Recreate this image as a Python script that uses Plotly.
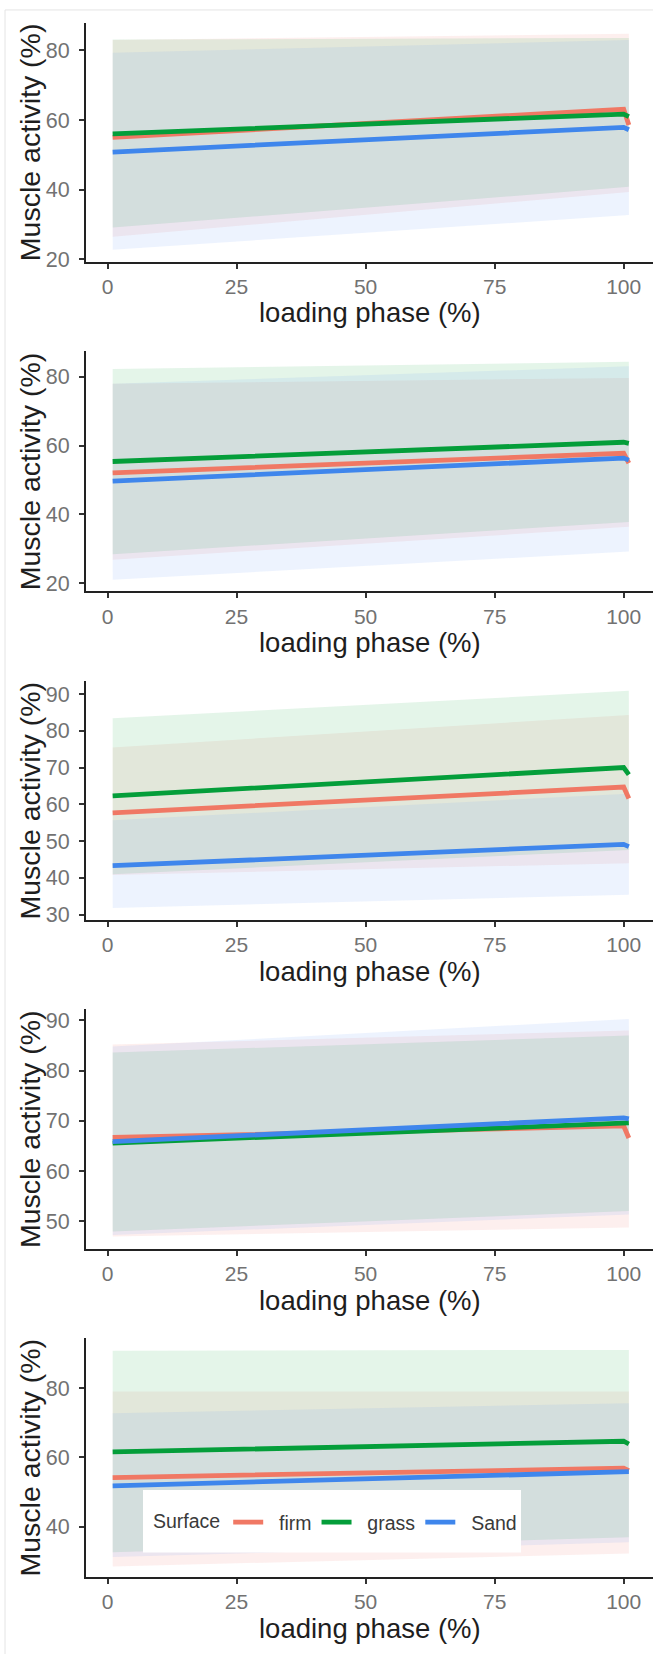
import plotly.graph_objects as go

# ---------------- data ----------------
surfaces = ["firm", "grass", "Sand"]
line_x = [1, 100, 101]
ribbon_x = [1, 101]

# panel 1
p1_mean = {"firm": [55.0, 63.1, 58.6], "grass": [56.0, 61.7, 61.0], "Sand": [50.8, 57.9, 57.2]}
p1_upper = {"firm": [83.0, 84.8], "grass": [83.1, 83.6], "Sand": [79.3, 83.0]}
p1_lower = {"firm": [26.5, 39.3], "grass": [29.1, 40.8], "Sand": [22.7, 32.7]}
# panel 2
p2_mean = {"firm": [52.1, 57.8, 54.9], "grass": [55.4, 61.0, 60.7], "Sand": [49.7, 56.4, 55.8]}
p2_upper = {"firm": [78.0, 79.7], "grass": [82.3, 84.4], "Sand": [78.0, 83.1]}
p2_lower = {"firm": [26.8, 36.4], "grass": [28.4, 37.8], "Sand": [21.0, 29.2]}
# panel 3
p3_mean = {"firm": [57.7, 64.7, 61.6], "grass": [62.3, 70.0, 68.1], "Sand": [43.3, 49.1, 48.5]}
p3_upper = {"firm": [75.5, 84.3], "grass": [83.4, 90.9], "Sand": [55.7, 62.9]}
p3_lower = {"firm": [40.8, 44.0], "grass": [41.0, 47.6], "Sand": [31.8, 35.4]}
# panel 4
p4_mean = {"firm": [66.7, 69.0, 66.6], "grass": [65.6, 69.7, 69.6], "Sand": [65.9, 70.6, 70.4]}
p4_upper = {"firm": [85.2, 88.0], "grass": [83.6, 87.0], "Sand": [84.8, 90.3]}
p4_lower = {"firm": [47.0, 48.8], "grass": [48.0, 52.1], "Sand": [47.3, 51.4]}
# panel 5
p5_mean = {"firm": [54.2, 56.9, 56.2], "grass": [61.6, 64.7, 63.9], "Sand": [51.8, 55.9, 55.9]}
p5_upper = {"firm": [79.1, 79.1], "grass": [90.9, 91.1], "Sand": [72.8, 75.7]}
p5_lower = {"firm": [28.5, 32.2], "grass": [32.6, 36.9], "Sand": [31.2, 35.5]}

x_ticks = [0, 25, 50, 75, 100]
y_ticks = [[20, 40, 60, 80], [20, 40, 60, 80], [30, 40, 50, 60, 70, 80, 90],
           [50, 60, 70, 80, 90], [40, 60, 80]]
y_ranges = [[19.3, 88.0], [17.6, 87.5], [28.5, 93.6], [44.5, 92.3], [25.4, 94.6]]
x_title = "loading phase (%)"
y_title = "Muscle activity (%)"

panels = [(p1_mean, p1_upper, p1_lower), (p2_mean, p2_upper, p2_lower),
          (p3_mean, p3_upper, p3_lower), (p4_mean, p4_upper, p4_lower),
          (p5_mean, p5_upper, p5_lower)]

# ---------------- style ----------------
W, H = 653, 1654
line_colors = {"firm": "#F07864", "grass": "#049E3A", "Sand": "#3F86EC"}
ribbon_rgb = {"firm": (240, 120, 112), "grass": (30, 170, 75), "Sand": (105, 156, 245)}
ribbon_alpha = 0.12
panel_px = [(22.7, 263.3), (353.3, 595.0), (685.0, 925.7), (1015.0, 1256.7), (1346.0, 1586.7)]
FONT = "Liberation Sans, Arial, sans-serif"
NBSP = "\u00a0"

fig = go.Figure()
layout_axes = {}
annotations = []
for i, (mean, upper, lower) in enumerate(panels):
    n = "" if i == 0 else str(i + 1)
    xa, ya = "x" + n, "y" + n
    for s in surfaces:
        r, g, b = ribbon_rgb[s]
        fig.add_trace(go.Scatter(
            x=ribbon_x + ribbon_x[::-1], y=lower[s] + upper[s][::-1],
            fill="toself", fillcolor=f"rgba({r},{g},{b},{ribbon_alpha})",
            line=dict(width=0), mode="lines", showlegend=False, hoverinfo="skip",
            xaxis=xa, yaxis=ya))
    for s in surfaces:
        fig.add_trace(go.Scatter(
            x=line_x, y=mean[s], mode="lines", name=NBSP * 2 + s,
            legendgroup=s, line=dict(color=line_colors[s], width=4.8),
            showlegend=(i == 0), xaxis=xa, yaxis=ya))
    top, bot = panel_px[i]
    layout_axes["xaxis" + n] = dict(
        domain=[86 / W, 1.0], range=[-4.165, 105.68], anchor=ya,
        tickvals=x_ticks, showline=True, linecolor="#222222", linewidth=2,
        ticks="outside", ticklen=5, tickwidth=1.5, tickcolor="#333333",
        showgrid=False, zeroline=False, ticklabelstandoff=0,
        tickfont=dict(family=FONT, size=21, color="#727272"))
    layout_axes["yaxis" + n] = dict(
        domain=[1 - bot / H, 1 - top / H], range=y_ranges[i], anchor=xa,
        tickvals=y_ticks[i], showline=True, linecolor="#222222", linewidth=2,
        ticks="outside", ticklen=5, tickwidth=1.5, tickcolor="#333333",
        showgrid=False, zeroline=False, ticklabelstandoff=5,
        tickfont=dict(family=FONT, size=21.5, color="#727272"))
    # axis titles
    annotations.append(dict(text=x_title, xref="paper", yref="paper",
                            x=370 / W, y=1 - (bot + 51.4) / H, borderpad=0,
                            xanchor="center", yanchor="middle", showarrow=False,
                            font=dict(family=FONT, size=27.5, color="#1e1e1e")))
    annotations.append(dict(text=y_title, xref="paper", yref="paper",
                            x=30 / W, y=1 - ((top + bot) / 2) / H, textangle=-90,
                            borderpad=0, xanchor="center", yanchor="middle",
                            showarrow=False,
                            font=dict(family=FONT, size=28.5, color="#1e1e1e")))

fig.update_layout(
    width=W, height=H, margin=dict(l=0, r=0, t=0, b=0),
    paper_bgcolor="white", plot_bgcolor="white",
    showlegend=True,
    legend=dict(orientation="h", x=151 / W, xanchor="left",
                y=1 - 1531.7 / H, yanchor="middle",
                bgcolor="rgba(255,255,255,0)", borderwidth=0,
                font=dict(family=FONT, size=19.5, color="#3a3a3a"),
                title=dict(text="Surface", side="left",
                           font=dict(family=FONT, size=19.5, color="#3a3a3a")),
                itemwidth=30, traceorder="normal"),
    annotations=annotations,
    shapes=[
        dict(type="rect", xref="paper", yref="paper",
             x0=143 / W, x1=521 / W, y0=1 - 1562 / H, y1=1 - 1499 / H,
             fillcolor="white", line=dict(width=0), layer="above"),
        dict(type="rect", xref="paper", yref="paper",
             x0=5 / W, x1=1.02, y0=-0.01, y1=1 - 10 / H,
             fillcolor="rgba(0,0,0,0)", line=dict(color="#e4e4e4", width=1), layer="below"),
    ],
    **layout_axes)

fig.write_html("out.html",
               config={"displayModeBar": False},
               post_script="document.body.style.margin='0';"
                           "document.body.style.overflow='hidden';"
                           "document.documentElement.style.overflow='hidden';"
                           "window.scrollTo(0,0);")
